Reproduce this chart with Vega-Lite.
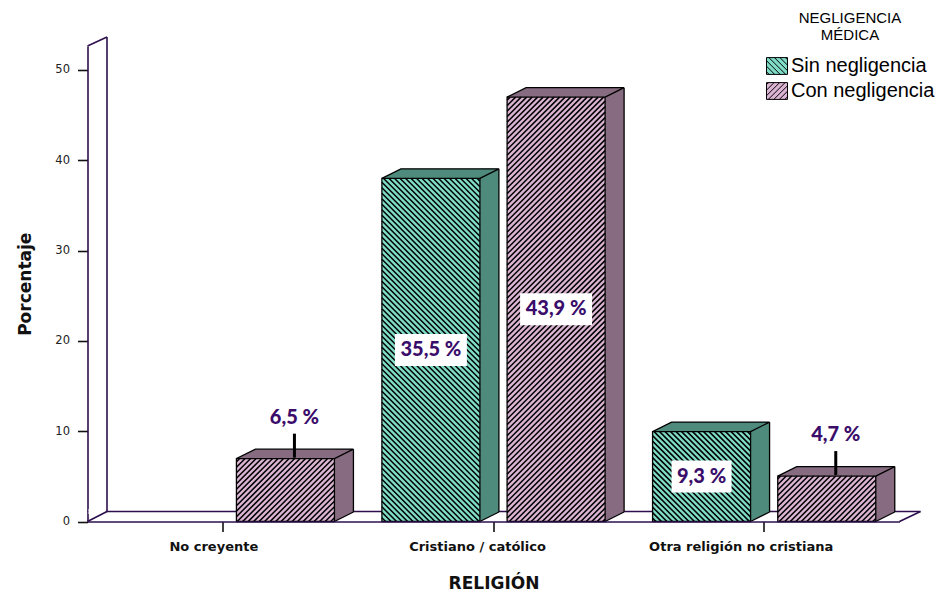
{
  "$schema": "https://vega.github.io/schema/vega-lite/v6.json",
  "width": 812,
  "height": 475.5,
  "autosize": "none",
  "padding": {"left": 87.5, "top": 46, "right": 36.5, "bottom": 79.5},
  "background": "#ffffff",
  "config": {
    "view": {"stroke": null},
    "mark": {"opacity": 1},
    "locale": {"number": {"decimal": ",", "thousands": ".", "grouping": [3], "currency": ["", " %"]}}
  },
  "datasets": {
    "rows": [
      {"religion": "No creyente", "series": "Con negligencia", "value": 6.5},
      {"religion": "Cristiano / católico", "series": "Sin negligencia", "value": 35.5},
      {"religion": "Cristiano / católico", "series": "Con negligencia", "value": 43.9},
      {"religion": "Otra religión no cristiana", "series": "Sin negligencia", "value": 9.3},
      {"religion": "Otra religión no cristiana", "series": "Con negligencia", "value": 4.7}
    ]
  },
  "data": {"name": "rows"},
  "layer": [
    {
      "mark": {"type": "point", "opacity": 0},
      "encoding": {
        "x": {
          "field": "religion",
          "type": "nominal",
          "title": "RELIGIÓN",
          "sort": ["No creyente", "Cristiano / católico", "Otra religión no cristiana"],
          "scale": {"type": "band", "domain": ["No creyente", "Cristiano / católico", "Otra religión no cristiana"], "paddingInner": 0, "paddingOuter": 0},
          "axis": {
            "title": "RELIGIÓN",
            "labelAngle": 0,
            "labelFont": "DejaVu Sans",
            "labelFontWeight": "bold",
            "labelFontSize": 13,
            "labelColor": "#111111",
            "labelPadding": 9,
            "labelLimit": 0,
            "labelOffset": {"expr": "datum.value === 'No creyente' ? -9 : datum.value === 'Cristiano / católico' ? -16 : -23"},
            "tickSize": 10,
            "tickWidth": 1.6,
            "tickColor": "#111111",
            "domainColor": "#2c0f4c",
            "domainWidth": 1.6,
            "titleFont": "DejaVu Sans",
            "titleFontSize": 17,
            "titleFontWeight": "bold",
            "titleColor": "#111111",
            "titlePadding": 22,
            "grid": false,
            "zindex": 1
          }
        },
        "y": {
          "field": "value",
          "type": "quantitative",
          "scale": {"domain": [0, 52.64], "nice": false, "zero": true},
          "axis": {
            "values": [0, 10, 20, 30, 40, 50],
            "title": "Porcentaje",
            "tickSize": 10,
            "tickWidth": 1.6,
            "tickColor": "#111111",
            "domainColor": "#2c0f4c",
            "domainWidth": 1.6,
            "labelFont": "DejaVu Sans",
            "labelFontSize": 11.5,
            "labelColor": "#222222",
            "labelPadding": 8,
            "titleFont": "DejaVu Sans",
            "titleFontSize": 17,
            "titleFontWeight": "bold",
            "titleColor": "#111111",
            "titlePadding": 20,
            "grid": false
          }
        }
      }
    },
    {
      "transform": [{"filter": "datum.religion === 'No creyente'"}],
      "mark": {"type": "rule", "stroke": "#2c0f4c", "strokeWidth": 1.6, "xOffset": 21, "x2Offset": 19.5, "yOffset": -10},
      "encoding": {
        "y": {"datum": 0, "type": "quantitative", "scale": {"domain": [0, 49.19], "nice": false, "zero": true}, "axis": null}
      }
    },
    {
      "encoding": {
        "x": {
          "field": "religion",
          "type": "nominal",
          "title": "RELIGIÓN",
          "sort": ["No creyente", "Cristiano / católico", "Otra religión no cristiana"],
          "scale": {"type": "band", "domain": ["No creyente", "Cristiano / católico", "Otra religión no cristiana"], "paddingInner": 0, "paddingOuter": 0}
        },
        "y": {"field": "value", "type": "quantitative", "stack": null, "scale": {"domain": [0, 49.19], "nice": false, "zero": true}, "axis": null}
      },
      "layer": [
        {
          "transform": [{"filter": "datum.religion === 'No creyente'"}],
          "layer": [
            {
              "mark": {"type": "point", "shape": "M1 -7.5L18.3 -7.5L18.3 -12.5L1 -12.5Z", "size": 4, "filled": true, "fill": "#ffffff", "strokeWidth": 0},
              "encoding": {"x": {"field": "religion", "type": "nominal", "bandPosition": 0}, "y": {"datum": 0}}
            },
            {
              "mark": {"type": "rule", "stroke": "#2c0f4c", "strokeWidth": 1.6, "xOffset": 19.5, "yOffset": -10, "y2Offset": -9},
              "encoding": {"x": {"field": "religion", "type": "nominal", "bandPosition": 0}, "y": {"datum": 0}, "y2": {"datum": 49.19}}
            },
            {
              "mark": {"type": "point", "shape": "M0 0L19.5 -10", "size": 4, "filled": false, "stroke": "#2c0f4c", "strokeWidth": 1.6},
              "encoding": {"x": {"field": "religion", "type": "nominal", "bandPosition": 0}, "y": {"datum": 0}}
            },
            {
              "mark": {"type": "point", "shape": "M0 0L19.5 -9", "size": 4, "filled": false, "stroke": "#2c0f4c", "strokeWidth": 1.6},
              "encoding": {"x": {"field": "religion", "type": "nominal", "bandPosition": 0}, "y": {"datum": 49.19}}
            }
          ]
        },
        {
          "transform": [{"filter": "datum.religion === 'Otra religión no cristiana' && datum.series === 'Con negligencia'"}],
          "mark": {"type": "point", "shape": "M0 0L21 -10", "size": 4, "filled": false, "stroke": "#2c0f4c", "strokeWidth": 1.6},
          "encoding": {"x": {"field": "religion", "type": "nominal", "bandPosition": 1}, "y": {"datum": 0}}
        },
        {
          "transform": [{"filter": "false"}],
          "mark": {"type": "point", "filled": true, "stroke": "#000000", "strokeWidth": 1},
          "encoding": {
            "fill": {
              "field": "series",
              "type": "nominal",
              "scale": {"domain": ["Sin negligencia", "Con negligencia"], "range": ["#7fdcc6", "#dab4d2"]},
              "legend": {
                "title": ["NEGLIGENCIA", "MÉDICA"],
                "orient": "none",
                "legendX": 678.5,
                "legendY": -35,
                "padding": 0,
                "symbolSize": 441,
                "symbolStrokeColor": "#000000",
                "symbolStrokeWidth": 1,
                "symbolOpacity": 1,
                "labelFont": "Liberation Sans",
                "labelFontSize": 20,
                "labelColor": "#000000",
                "labelOffset": 3,
                "labelLimit": 300,
                "rowPadding": 3,
                "titleFont": "Liberation Sans",
                "titleFontSize": 15,
                "titleFontWeight": "normal",
                "titleColor": "#000000",
                "titleAnchor": "middle",
                "titleAlign": "center",
                "titleLineHeight": 17,
                "titlePadding": 12
              }
            },
            "shape": {
              "field": "series",
              "type": "nominal",
              "scale": {
                "domain": ["Sin negligencia", "Con negligencia"],
                "range": [
                  "M-1 -0.8H1V0.8H-1ZM0.8 -0.8L1 -0.6M0.28 -0.8L1 -0.08M-0.25 -0.8L1 0.45M-0.77 -0.8L0.83 0.8M-1 -0.5L0.3 0.8M-1 0.02L-0.22 0.8M-1 0.55L-0.75 0.8",
                  "M-1 -0.8H1V0.8H-1ZM-0.8 -0.8L-1 -0.6M-0.28 -0.8L-1 -0.08M0.25 -0.8L-1 0.45M0.77 -0.8L-0.83 0.8M1 -0.5L-0.3 0.8M1 0.02L0.22 0.8M1 0.55L0.75 0.8"
                ]
              }
            }
          }
        },
        {
          "transform": [{"filter": "datum.series === 'Sin negligencia'"}],
          "layer": [
            {
              "mark": {"type": "bar", "width": 19, "xOffset": -4.1, "yOffset": -9.5, "y2Offset": -9.5, "fill": "#4e8b7c", "strokeWidth": 0},
              "encoding": {"y2": {"datum": 0}}
            },
            {
              "mark": {"type": "point", "shape": "M-49 0.5L-30 -9.5L68 -9.5L68 0.5Z", "size": 4, "filled": true, "fill": "#4e8b7c", "strokeWidth": 0, "xOffset": -62.6}
            },
            {
              "mark": {"type": "point", "shape": "M48.6 0.3L68 -9.5L68 -10L48.6 -10Z", "size": 4, "filled": true, "fill": "#4e8b7c", "strokeWidth": 0, "xOffset": -62.6},
              "encoding": {"y": {"datum": 0}}
            },
            {
              "mark": {"type": "bar", "width": 98, "xOffset": -62.6, "fill": "#7fdcc6", "strokeWidth": 0}
            },
            {
              "mark": {
                "type": "point",
                "size": 4,
                "filled": false,
                "stroke": "#000000",
                "strokeWidth": 1.5,
                "xOffset": -62.6,
                "shape": "M46 0L49 3M40.5 0L49 8.5M35 0L49 14M29.5 0L49 19.5M24 0L49 25M18.5 0L49 30.5M13 0L49 36M7.5 0L49 41.5M2 0L49 47M-3.5 0L49 52.5M-9 0L49 58M-14.5 0L49 63.5M-20 0L49 69M-25.5 0L49 74.5M-31 0L49 80M-36.5 0L49 85.5M-42 0L49 91M-47.5 0L49 96.5M-49 4l98 98M-49 9.5l98 98M-49 15l98 98M-49 20.5l98 98M-49 26l98 98M-49 31.5l98 98M-49 37l98 98M-49 42.5l98 98M-49 48l98 98M-49 53.5l98 98M-49 59l98 98M-49 64.5l98 98M-49 70l98 98M-49 75.5l98 98M-49 81l98 98M-49 86.5l98 98M-49 92l98 98M-49 97.5l98 98M-49 103l98 98M-49 108.5l98 98M-49 114l98 98M-49 119.5l98 98M-49 125l98 98M-49 130.5l98 98M-49 136l98 98M-49 141.5l98 98M-49 147l98 98M-49 152.5l98 98M-49 158l98 98M-49 163.5l98 98M-49 169l98 98M-49 174.5l98 98M-49 180l98 98M-49 185.5l98 98M-49 191l98 98M-49 196.5l98 98M-49 202l98 98M-49 207.5l98 98M-49 213l98 98M-49 218.5l98 98M-49 224l98 98M-49 229.5l98 98M-49 235l98 98M-49 240.5l98 98M-49 246l98 98M-49 251.5l98 98M-49 257l98 98M-49 262.5l98 98M-49 268l98 98M-49 273.5l98 98M-49 279l98 98M-49 284.5l98 98M-49 290l98 98M-49 295.5l98 98M-49 301l98 98M-49 306.5l98 98M-49 312l98 98M-49 317.5l98 98M-49 323l98 98M-49 328.5l98 98M-49 334l98 98M-49 339.5l98 98"
              }
            },
            {
              "mark": {"type": "bar", "width": 101, "xOffset": -62.6, "fill": "#ffffff", "strokeWidth": 0},
              "encoding": {"y": {"datum": 0}, "y2": {"datum": -12}}
            },
            {
              "mark": {"type": "bar", "width": 98, "xOffset": -62.6, "fill": "transparent", "stroke": "#000000", "strokeWidth": 1.3}
            },
            {
              "mark": {"type": "point", "shape": "M-49 0L-30 -9.5L68 -9.5M49 0L68 -9.5", "size": 4, "filled": false, "stroke": "#000000", "strokeWidth": 1.3, "xOffset": -62.6}
            },
            {
              "mark": {"type": "rule", "stroke": "#000000", "strokeWidth": 1.3, "xOffset": 5.4, "yOffset": -9.5, "y2Offset": -9.5},
              "encoding": {"y2": {"datum": 0}}
            },
            {
              "mark": {"type": "point", "shape": "M49 0L68 -9.5", "size": 4, "filled": false, "stroke": "#000000", "strokeWidth": 1.3, "xOffset": -62.6},
              "encoding": {"y": {"datum": 0}}
            }
          ]
        },
        {
          "transform": [{"filter": "datum.series === 'Con negligencia'"}],
          "layer": [
            {
              "mark": {"type": "bar", "width": 19, "xOffset": 121.1, "yOffset": -9.5, "y2Offset": -9.5, "fill": "#876c81", "strokeWidth": 0},
              "encoding": {"y2": {"datum": 0}}
            },
            {
              "mark": {"type": "point", "shape": "M-49 0.5L-30 -9.5L68 -9.5L68 0.5Z", "size": 4, "filled": true, "fill": "#876c81", "strokeWidth": 0, "xOffset": 62.6}
            },
            {
              "mark": {"type": "point", "shape": "M48.6 0.3L68 -9.5L68 -10L48.6 -10Z", "size": 4, "filled": true, "fill": "#876c81", "strokeWidth": 0, "xOffset": 62.6},
              "encoding": {"y": {"datum": 0}}
            },
            {
              "mark": {"type": "bar", "width": 98, "xOffset": 62.6, "fill": "#dab4d2", "strokeWidth": 0}
            },
            {
              "mark": {
                "type": "point",
                "size": 4,
                "filled": false,
                "stroke": "#000000",
                "strokeWidth": 1.5,
                "xOffset": 62.6,
                "shape": "M-46 0L-49 3M-40.5 0L-49 8.5M-35 0L-49 14M-29.5 0L-49 19.5M-24 0L-49 25M-18.5 0L-49 30.5M-13 0L-49 36M-7.5 0L-49 41.5M-2 0L-49 47M3.5 0L-49 52.5M9 0L-49 58M14.5 0L-49 63.5M20 0L-49 69M25.5 0L-49 74.5M31 0L-49 80M36.5 0L-49 85.5M42 0L-49 91M47.5 0L-49 96.5M49 4l-98 98M49 9.5l-98 98M49 15l-98 98M49 20.5l-98 98M49 26l-98 98M49 31.5l-98 98M49 37l-98 98M49 42.5l-98 98M49 48l-98 98M49 53.5l-98 98M49 59l-98 98M49 64.5l-98 98M49 70l-98 98M49 75.5l-98 98M49 81l-98 98M49 86.5l-98 98M49 92l-98 98M49 97.5l-98 98M49 103l-98 98M49 108.5l-98 98M49 114l-98 98M49 119.5l-98 98M49 125l-98 98M49 130.5l-98 98M49 136l-98 98M49 141.5l-98 98M49 147l-98 98M49 152.5l-98 98M49 158l-98 98M49 163.5l-98 98M49 169l-98 98M49 174.5l-98 98M49 180l-98 98M49 185.5l-98 98M49 191l-98 98M49 196.5l-98 98M49 202l-98 98M49 207.5l-98 98M49 213l-98 98M49 218.5l-98 98M49 224l-98 98M49 229.5l-98 98M49 235l-98 98M49 240.5l-98 98M49 246l-98 98M49 251.5l-98 98M49 257l-98 98M49 262.5l-98 98M49 268l-98 98M49 273.5l-98 98M49 279l-98 98M49 284.5l-98 98M49 290l-98 98M49 295.5l-98 98M49 301l-98 98M49 306.5l-98 98M49 312l-98 98M49 317.5l-98 98M49 323l-98 98M49 328.5l-98 98M49 334l-98 98M49 339.5l-98 98M49 345l-98 98M49 350.5l-98 98M49 356l-98 98M49 361.5l-98 98M49 367l-98 98M49 372.5l-98 98M49 378l-98 98M49 383.5l-98 98M49 389l-98 98M49 394.5l-98 98M49 400l-98 98M49 405.5l-98 98M49 411l-98 98M49 416.5l-98 98M49 422l-98 98"
              }
            },
            {
              "mark": {"type": "bar", "width": 101, "xOffset": 62.6, "fill": "#ffffff", "strokeWidth": 0},
              "encoding": {"y": {"datum": 0}, "y2": {"datum": -12}}
            },
            {
              "mark": {"type": "bar", "width": 98, "xOffset": 62.6, "fill": "transparent", "stroke": "#000000", "strokeWidth": 1.3}
            },
            {
              "mark": {"type": "point", "shape": "M-49 0L-30 -9.5L68 -9.5M49 0L68 -9.5", "size": 4, "filled": false, "stroke": "#000000", "strokeWidth": 1.3, "xOffset": 62.6}
            },
            {
              "mark": {"type": "rule", "stroke": "#000000", "strokeWidth": 1.3, "xOffset": 130.6, "yOffset": -9.5, "y2Offset": -9.5},
              "encoding": {"y2": {"datum": 0}}
            },
            {
              "mark": {"type": "point", "shape": "M49 0L68 -9.5", "size": 4, "filled": false, "stroke": "#000000", "strokeWidth": 1.3, "xOffset": 62.6},
              "encoding": {"y": {"datum": 0}}
            },
            {
              "transform": [{"filter": "datum.value < 8"}],
              "mark": {"type": "point", "shape": "M9 -1L9 -25", "size": 4, "filled": false, "stroke": "#000000", "strokeWidth": 3, "xOffset": 62.6}
            },
            {
              "transform": [{"filter": "datum.value < 8"}],
              "mark": {"type": "text", "font": "Lato", "fontWeight": 900, "fontSize": 20, "fill": "#3a0d6b", "align": "center", "baseline": "middle", "xOffset": 71.6, "yOffset": -41},
              "encoding": {"text": {"field": "value", "type": "quantitative", "format": "$.1f"}}
            }
          ]
        }
      ]
    },
    {
      "transform": [{"filter": "datum.value >= 8"}],
      "encoding": {
        "x": {
          "field": "religion",
          "type": "nominal",
          "title": "RELIGIÓN",
          "sort": ["No creyente", "Cristiano / católico", "Otra religión no cristiana"],
          "scale": {"type": "band", "domain": ["No creyente", "Cristiano / católico", "Otra religión no cristiana"], "paddingInner": 0, "paddingOuter": 0}
        },
        "y": {"field": "value", "type": "quantitative", "stack": null, "scale": {"domain": [0, 98.38], "nice": false, "zero": true}, "axis": null},
        "xOffset": {
          "field": "series",
          "type": "nominal",
          "scale": {"domain": ["Sin negligencia", "Con negligencia"], "paddingInner": 0.2173, "paddingOuter": 0.1897}
        }
      },
      "layer": [
        {
          "mark": {"type": "bar", "fill": "#ffffff", "strokeWidth": 0, "yOffset": -16, "y2Offset": 16},
          "encoding": {
            "y2": {"field": "value"},
            "size": {"condition": {"test": "datum.value < 10", "value": 60}, "value": 72}
          }
        },
        {
          "mark": {"type": "text", "font": "Lato", "fontWeight": 900, "fontSize": 20, "fill": "#3a0d6b", "align": "center", "baseline": "middle"},
          "encoding": {"text": {"field": "value", "type": "quantitative", "format": "$.1f"}}
        }
      ]
    }
  ],
  "resolve": {"scale": {"y": "independent"}}
}
